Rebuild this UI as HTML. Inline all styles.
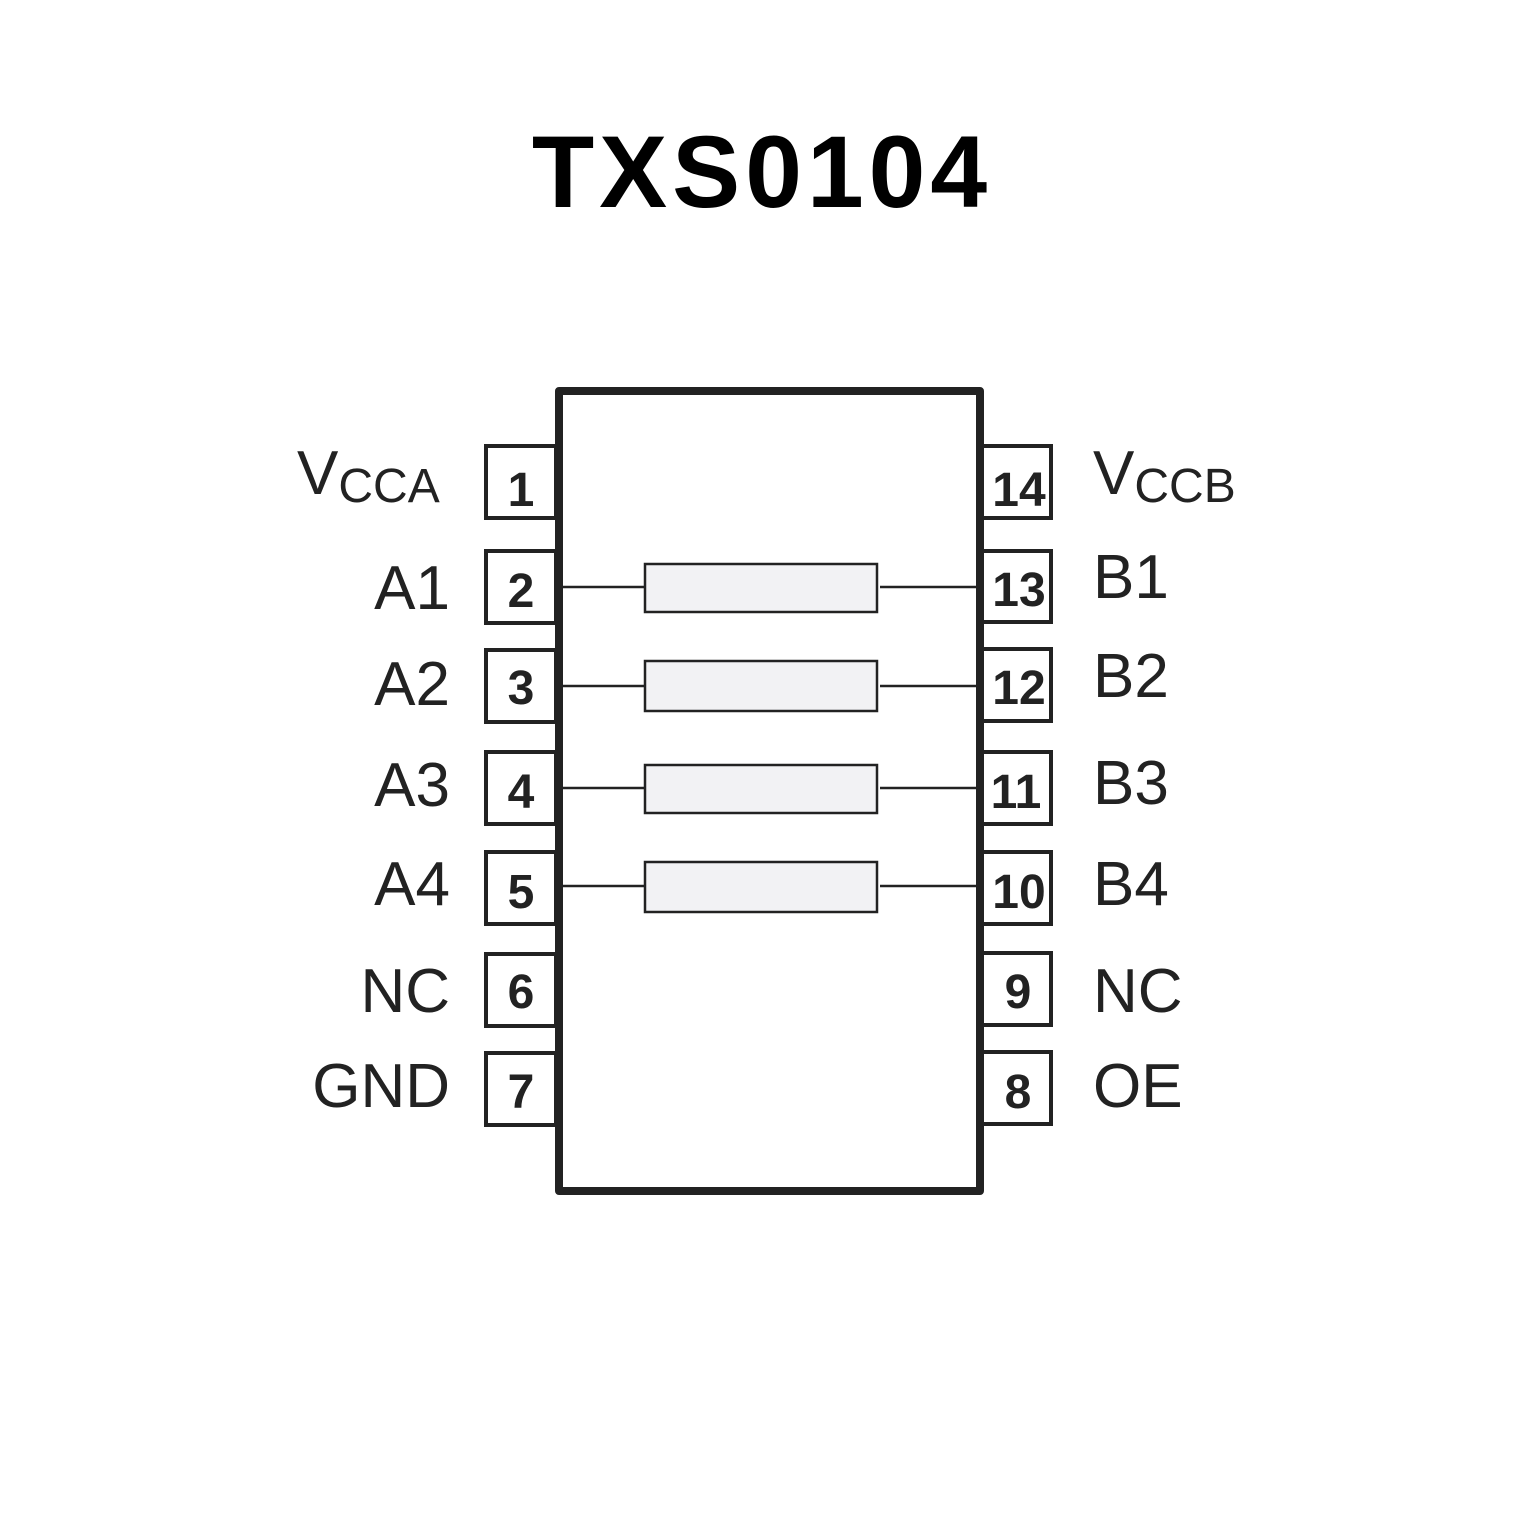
<!DOCTYPE html>
<html><head><style>
body{margin:0;background:#fff;}
svg{display:block}
</style></head><body>
<svg width="1535" height="1535" viewBox="0 0 1535 1535" xmlns="http://www.w3.org/2000/svg">
<text x="762" y="207" text-anchor="middle" font-family="Liberation Sans, sans-serif" font-weight="bold" font-size="102" letter-spacing="5" fill="#000">TXS0104</text>
<g fill="#fff" stroke="#222" stroke-width="4">
<rect x="486" y="446" width="70" height="72"/>
<rect x="486" y="551" width="70" height="72"/>
<rect x="486" y="650" width="70" height="72"/>
<rect x="486" y="752" width="70" height="72"/>
<rect x="486" y="852" width="70" height="72"/>
<rect x="486" y="954" width="70" height="72"/>
<rect x="486" y="1053" width="70" height="72"/>
<rect x="981" y="446" width="70" height="72"/>
<rect x="981" y="551" width="70" height="71"/>
<rect x="981" y="649" width="70" height="72"/>
<rect x="981" y="752" width="70" height="72"/>
<rect x="981" y="852" width="70" height="72"/>
<rect x="981" y="953" width="70" height="72"/>
<rect x="981" y="1052" width="70" height="72"/>
</g>
<rect x="559" y="391" width="421" height="800" fill="#fff" stroke="#222" stroke-width="8" stroke-linejoin="round"/>
<g stroke="#222" stroke-width="2.5">
<line x1="563" y1="587" x2="645" y2="587"/><line x1="880" y1="587" x2="977" y2="587"/>
<line x1="563" y1="686" x2="645" y2="686"/><line x1="880" y1="686" x2="977" y2="686"/>
<line x1="563" y1="788" x2="645" y2="788"/><line x1="880" y1="788" x2="977" y2="788"/>
<line x1="563" y1="886" x2="645" y2="886"/><line x1="880" y1="886" x2="977" y2="886"/>
</g>
<g fill="#f2f2f4" stroke="#222" stroke-width="2.5">
<rect x="645" y="564" width="232" height="48"/>
<rect x="645" y="661" width="232" height="50"/>
<rect x="645" y="765" width="232" height="48"/>
<rect x="645" y="862" width="232" height="50"/>
</g>
<g font-family="Liberation Sans, sans-serif" font-weight="bold" font-size="48" fill="#222" text-anchor="middle">
<text x="521" y="506">1</text><text x="521" y="607">2</text><text x="521" y="704">3</text>
<text x="521" y="808">4</text><text x="521" y="908">5</text><text x="521" y="1008">6</text><text x="521" y="1108">7</text>
<text x="1019" y="506">14</text><text x="1019" y="606">13</text><text x="1019" y="704">12</text>
<text x="1016" y="808">11</text><text x="1019" y="908">10</text><text x="1018" y="1008">9</text><text x="1018" y="1108">8</text>
</g>
<g font-family="Liberation Sans, sans-serif" font-size="62" fill="#222">
<text x="297" y="494">V<tspan font-size="48" dy="8">CCA</tspan></text>
<text x="450" y="609" text-anchor="end">A1</text>
<text x="450" y="705" text-anchor="end">A2</text>
<text x="450" y="806" text-anchor="end">A3</text>
<text x="450" y="905" text-anchor="end">A4</text>
<text x="450" y="1012" text-anchor="end">NC</text>
<text x="450" y="1107" text-anchor="end">GND</text>
<text x="1093" y="494">V<tspan font-size="48" dy="8">CCB</tspan></text>
<text x="1093" y="598">B1</text>
<text x="1093" y="697">B2</text>
<text x="1093" y="804">B3</text>
<text x="1093" y="905">B4</text>
<text x="1093" y="1012">NC</text>
<text x="1093" y="1107">OE</text>
</g>
</svg>
</body></html>
